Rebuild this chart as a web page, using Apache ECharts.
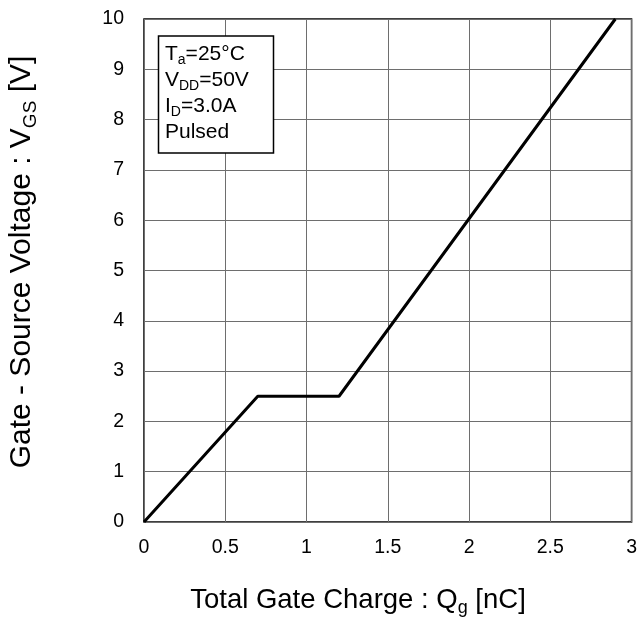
<!DOCTYPE html>
<html>
<head>
<meta charset="utf-8">
<script src="https://cdn.jsdelivr.net/npm/echarts@6/dist/echarts.min.js"></script>
<style>html,body{margin:0;padding:0;background:#fff}#c{width:640px;height:617px}</style>
</head>
<body>
<div id="c"></div>
<script>
var qg = [0, 0.7, 1.2, 2.9];
var vgs = [0, 2.5, 2.5, 10];
var xTicks = [0, 0.5, 1, 1.5, 2, 2.5, 3];
var yTicks = [0, 1, 2, 3, 4, 5, 6, 7, 8, 9, 10];
var FONT = '"Liberation Sans", Arial, sans-serif';

var chart = echarts.init(document.getElementById('c'), null, {renderer: 'canvas'});
var pts = qg.map(function (x, i) { return [x, vgs[i]]; });

chart.setOption({
  animation: false,
  backgroundColor: '#fff',
  grid: {left: 144, right: 4, top: 19, bottom: 95, show: true, borderColor: '#000', borderWidth: 1.5, containLabel: false},
  xAxis: {
    type: 'value', min: xTicks[0], max: xTicks[xTicks.length - 1], interval: 0.5,
    axisLine: {show: false}, axisTick: {show: false},
    axisLabel: {color: '#000', fontSize: 19.5, fontFamily: FONT, margin: 16,
      formatter: function (v) { return String(v); }},
    splitLine: {show: true, lineStyle: {color: '#6e6e6e', width: 1}}
  },
  yAxis: {
    type: 'value', min: yTicks[0], max: yTicks[yTicks.length - 1], interval: 1,
    axisLine: {show: false}, axisTick: {show: false},
    axisLabel: {color: '#000', fontSize: 19.5, fontFamily: FONT, margin: 20},
    splitLine: {show: true, lineStyle: {color: '#6e6e6e', width: 1}}
  },
  series: [{
    type: 'line', data: pts, showSymbol: false, symbol: 'none',
    lineStyle: {color: '#000', width: 3}, z: 5
  }],
  graphic: [
    {type: 'rect', shape: {x: 158.5, y: 36, width: 115, height: 117}, z: 10,
     style: {fill: '#fff', stroke: '#000', lineWidth: 1.5}},
    {type: 'text', x: 165, y: 41, z: 11,
     style: {
       text: '{n|T}{s|a}{n|=25°C}\n{n|V}{s|DD}{n|=50V}\n{n|I}{s|D}{n|=3.0A}\n{n|Pulsed}',
       fill: '#000', align: 'left', verticalAlign: 'top',
       rich: {
         n: {fontSize: 21, fontFamily: FONT, lineHeight: 26, fill: '#000'},
         s: {fontSize: 14, fontFamily: FONT, lineHeight: 15, verticalAlign: 'bottom', fill: '#000'}
       }
     }},
    {type: 'text', x: 358, y: 600, z: 11,
     style: {
       text: '{n|Total Gate Charge : Q}{s|g}{n| [nC]}',
       fill: '#000', align: 'center', verticalAlign: 'middle',
       rich: {
         n: {fontSize: 27.5, fontFamily: FONT, lineHeight: 34, fill: '#000'},
         s: {fontSize: 18, fontFamily: FONT, lineHeight: 19, verticalAlign: 'bottom', fill: '#000'}
       }
     }},
    {type: 'text', x: 22, y: 262, rotation: Math.PI / 2, z: 11,
     style: {
       text: '{n|Gate - Source Voltage : V}{s|GS}{n| [V]}',
       fill: '#000', align: 'center', verticalAlign: 'middle',
       rich: {
         n: {fontSize: 30, fontFamily: FONT, lineHeight: 36, fill: '#000'},
         s: {fontSize: 19, fontFamily: FONT, lineHeight: 20, verticalAlign: 'bottom', fill: '#000'}
       }
     }}
  ]
});
</script>
</body>
</html>
